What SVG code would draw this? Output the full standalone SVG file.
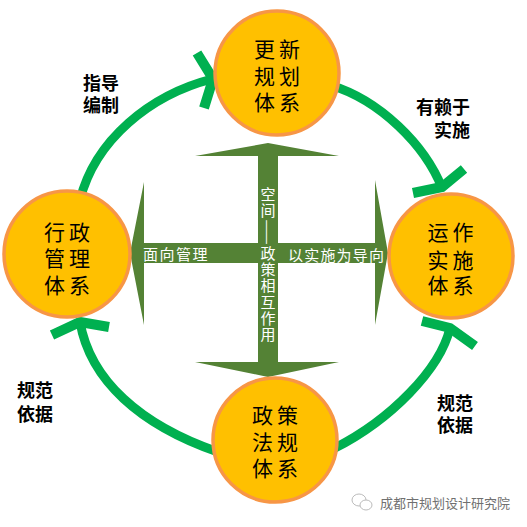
<svg xmlns="http://www.w3.org/2000/svg" width="527" height="527" viewBox="0 0 527 527">
<defs>
<style>
.arc{fill:none;stroke:#00B050;stroke-width:9}
.chev{fill:none;stroke:#00B050;stroke-width:10;stroke-linecap:butt;stroke-linejoin:miter}
.node{fill:#FFC000;stroke:#F79646;stroke-width:3.5}
.nt{font-family:"Noto Sans CJK SC","Noto Sans",sans-serif;font-size:21px;fill:#000;text-anchor:middle}
.lbl{font-family:"Noto Sans CJK SC","Noto Sans",sans-serif;font-size:18px;font-weight:700;fill:#000}
.ct{font-family:"Noto Sans CJK SC","Noto Sans",sans-serif;font-size:15px;fill:#fff}
</style>
</defs>
<rect width="527" height="527" fill="#fff"/>
<g id="connectors">
<path class="arc" d="M80,200 C95,140 150,95 212,79"/>
<polyline class="chev" points="197,53 213,79 204,108"/>
<path class="arc" d="M330,85 C380,100 425,145 442,188"/>
<polyline class="chev" points="413,193 442,187 464,169"/>
<path class="arc" d="M335,448 C390,420 440,370 450,328"/>
<polyline class="chev" points="422,321 450,328 475,346"/>
<path class="arc" d="M218,452 C140,425 90,380 80,322"/>
<polyline class="chev" points="52,335 80,322 109,327"/>
</g>
<g id="labels">
<text class="lbl" x="83" y="90">指导</text>
<text class="lbl" x="83" y="112">编制</text>
<text class="lbl" x="470" y="114" text-anchor="end">有赖于</text>
<text class="lbl" x="470" y="137" text-anchor="end">实施</text>
<text class="lbl" x="17" y="397">规范</text>
<text class="lbl" x="17" y="421">依据</text>
<text class="lbl" x="437" y="410">规范</text>
<text class="lbl" x="437" y="432">依据</text>
</g>
<g id="cross">
<polygon fill="#548235" points="268,143 339,156 278,156 278,243 375,243 375,180 388,253 375,325 375,263 278,263 278,362 339,362 268,377 195,362 258,362 258,263 144,263 144,325 130,253 144,182 144,243 258,243 258,156 195,156"/>
<text class="ct" x="143" y="260" letter-spacing="1.5">面向管理</text>
<text class="ct" x="288" y="261" letter-spacing="1.2">以实施为导向</text>
<text class="ct" x="268" y="187" writing-mode="vertical-rl" letter-spacing="1.2">空间——政策相互作用</text>
</g>
<g id="node-top">
<circle class="node" cx="277" cy="73" r="62"/>
<text class="nt" x="264.5 289.5" y="57">更新</text>
<text class="nt" x="264.5 289.5" y="84">规划</text>
<text class="nt" x="264.5 289.5" y="110">体系</text>
</g>
<g id="node-left">
<circle class="node" cx="67" cy="254" r="63"/>
<text class="nt" x="54.5 79.5" y="240">行政</text>
<text class="nt" x="54.5 79.5" y="266">管理</text>
<text class="nt" x="54.5 79.5" y="293">体系</text>
</g>
<g id="node-right">
<circle class="node" cx="451" cy="256" r="62"/>
<text class="nt" x="438 463" y="240">运作</text>
<text class="nt" x="438 463" y="268">实施</text>
<text class="nt" x="438 463" y="293">体系</text>
</g>
<g id="node-bottom">
<circle class="node" cx="275" cy="440" r="62"/>
<text class="nt" x="262.5 287.5" y="423">政策</text>
<text class="nt" x="262.5 287.5" y="450">法规</text>
<text class="nt" x="262.5 287.5" y="476">体系</text>
</g>
<g id="watermark">
<ellipse cx="359" cy="500" rx="7" ry="6" fill="none" stroke="#bbb" stroke-width="1"/>
<ellipse cx="366" cy="505" rx="6" ry="5" fill="#fff" stroke="#bbb" stroke-width="1"/>
<text x="380" y="508" font-family="'Noto Sans CJK SC','Noto Sans',sans-serif" font-size="13" fill="#707070">成都市规划设计研究院</text>
</g>
</svg>
